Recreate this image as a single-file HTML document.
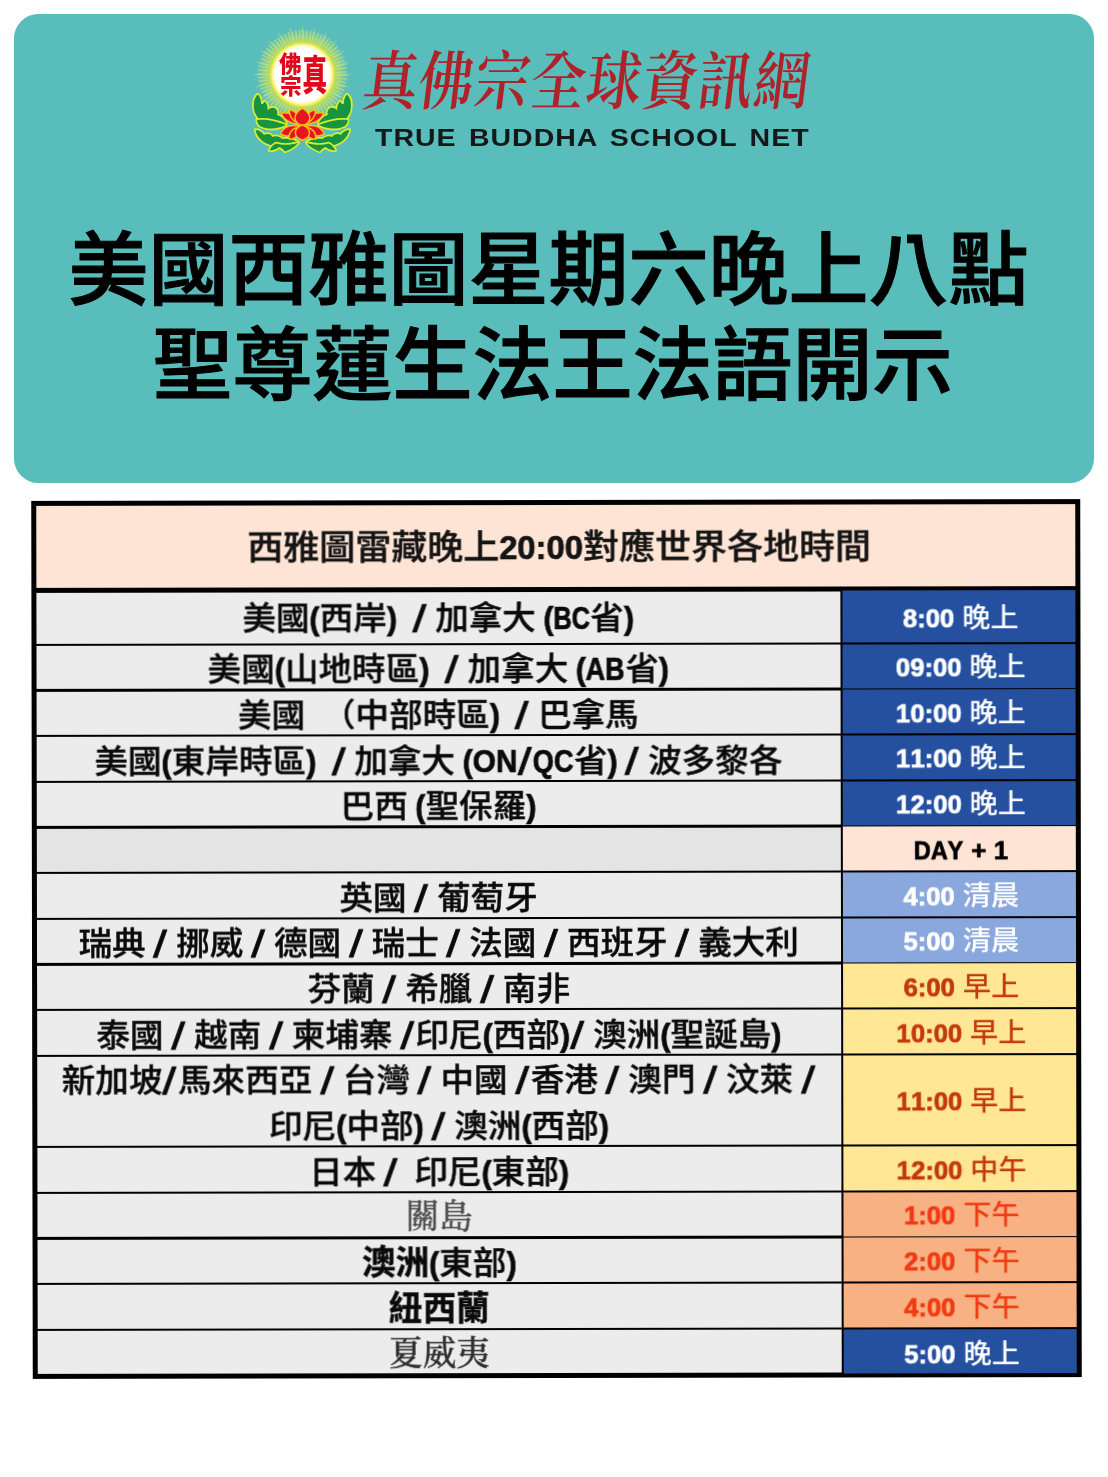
<!DOCTYPE html>
<html lang="zh-Hant">
<head>
<meta charset="utf-8">
<title>美國西雅圖星期六晚上八點 聖尊蓮生法王法語開示</title>
<style>
  html, body { margin: 0; padding: 0; }
  body {
    width: 1108px; height: 1477px; position: relative; overflow: hidden;
    background: #ffffff;
    font-family: "Liberation Sans", "Noto Sans CJK TC", sans-serif;
  }
  .banner {
    position: absolute; left: 14px; top: 14px; width: 1080px; height: 469px;
    border-radius: 24.5px; background: #58bdbb;
  }
  .logo { position: absolute; left: 240px; top: 20px; width: 130px; height: 140px; }
  .brand-zh {
    position: absolute; left: 363px; top: 42.5px; width: 456px; height: 80px;
    margin: 0; white-space: nowrap;
    font-family: "Liberation Serif", "Noto Serif CJK TC", "Noto Serif CJK SC", serif;
    font-weight: 600; font-size: 55px; line-height: 80px; letter-spacing: 0.9px; color: #b0222a;
    text-align: left; transform: skewX(-7deg) scaleY(1.16); transform-origin: 0 50%;
  }
  .brand-en {
    position: absolute; left: 374.5px; top: 124.6px; width: 434px; height: 26px;
    margin: 0; white-space: nowrap;
    font-family: "Liberation Sans", sans-serif; font-weight: 700;
    font-size: 23.5px; line-height: 26px; color: #15181a;
    letter-spacing: .8px; word-spacing: 3px;
  }
  .brand-en span { display: inline-block; transform: scaleX(1.213); transform-origin: 0 50%; }
  h1 {
    position: absolute; left: 0; top: 0; width: 1108px; height: 0; margin: 0;
    color: #000;
    font-family: "Liberation Sans", "Noto Sans CJK TC", sans-serif;
    font-weight: 500; font-size: 80px; line-height: 97px; white-space: nowrap;
    -webkit-text-stroke: 1.1px #000;
  }
  h1 span { position: absolute; display: block; }
  h1 .t1 { left: 68.5px; top: 221.75px; }
  h1 .t2 { left: 152.5px; top: 316.5px; }

  /* ---------- table ---------- */
  .sheet {
    position: absolute; left: 32.4px; top: 500.4px; width: 1049px; height: 878px;
    background: #000; transform: rotate(-0.1deg); transform-origin: 50% 50%;
    filter: blur(0.45px);
  }
  .sheet > div { position: absolute; }
  .head {
    left: 4.75px; top: 5.2px; width: 1039.5px; height: 81.5px; background: #fde4d5;
    text-align: center; font-size: 36px; line-height: 81.5px; color: #141414;
    white-space: pre; font-weight: 500; -webkit-text-stroke: 0.45px currentColor;
    padding: 1px 0 0 6.6px; box-sizing: border-box;
  }
  .head .c { transform: scaleY(.94); }
  .row { left: 4.75px; width: 1039.5px; }
  .row > div { position: absolute; top: 0; height: 100%; text-align: center; white-space: pre; }
  .row .a { left: 0; width: 804px; background: #ececec; color: #0a0a0a; font-size: 33.6px; line-height: 45.67px; font-weight: 500; word-spacing: -1.8px; letter-spacing: 0px; -webkit-text-stroke: 0.42px currentColor; }
  .row .b { left: 806px; top: -0.35px; height: calc(100% + 0.7px); width: 233.5px; box-sizing: border-box; padding-left: 3.6px; font-size: 28.2px; line-height: 43.67px; font-weight: 500; }
  .row .a .t { position: relative; top: 1.2px; display: inline-block; }
  .row .b .t { position: relative; top: 1.5px; display: inline-block; }
  .l, .s {
    display: inline-block; white-space: pre; text-align: left; font-kerning: none;
    font-family: "Liberation Sans", sans-serif; font-weight: 700;
    transform-origin: 0 50%;
  }
  .l { font-size: 0.91em; -webkit-text-stroke: 0.7px currentColor; letter-spacing: 0; word-spacing: 0; }
  .q { transform: scaleX(0.85); }
  .s { letter-spacing: 0; font-size: 1.15em; line-height: 1px; width: 0.40em; transform: translateY(0.08em) scaleX(1.3); font-weight: 400; -webkit-text-stroke: 0.7px currentColor; }
  .c { display: inline-block; transform: scaleY(0.96); transform-origin: 50% 55%; }
  .peach .l { word-spacing: 0.5px; }
  .bd { font-weight: 700; }
  .ming { font-family: "Liberation Serif", "Noto Serif CJK TC", "Noto Serif CJK SC", serif; color: #4a4a4a; font-weight: 400; }
  .ming.dk { color: #2e2e2e; font-weight: 500; }
  .navy  { background: #24509f; color: #fff; }
  .peach { background: #fde4d5; color: #000; }
  .sky   { background: #8aa8de; color: #fff; }
  .sun   { background: #ffe795; color: #c23a0a; }
  .tang  { background: #f7b183; color: #f03a12; }
</style>
</head>
<body>
<div class="banner"></div>

<svg class="logo" viewBox="0 0 130 140" role="img" aria-label="真佛宗">
  <defs>
    <radialGradient id="glow" cx="62.4" cy="54.6" r="48" gradientUnits="userSpaceOnUse">
      <stop offset="0.64" stop-color="#dfe94c" stop-opacity="1"/>
      <stop offset="0.70" stop-color="#b4da62" stop-opacity=".95"/>
      <stop offset="0.80" stop-color="#a0d47c" stop-opacity=".85"/>
      <stop offset="0.86" stop-color="#94d090" stop-opacity=".5"/>
      <stop offset="0.94" stop-color="#88cca4" stop-opacity=".15"/>
      <stop offset="1" stop-color="#7cc8b0" stop-opacity="0"/>
    </radialGradient>
    <radialGradient id="disc" cx="62.4" cy="54.6" r="32" gradientUnits="userSpaceOnUse">
      <stop offset="0.84" stop-color="#ffffff"/>
      <stop offset="0.92" stop-color="#fdf8b0"/>
      <stop offset="0.975" stop-color="#f4e93e"/>
      <stop offset="1" stop-color="#e6e848"/>
    </radialGradient>
    <g id="leafL">
      <path d="M18 74.5 C14.5 77 13 83 14.2 90 C15.7 97 21 102 30 104 C36 105.5 42 105 46 103 C44 99 41 96 37 95 C38 92 37 89.5 34.5 88 C32 87.5 29 88.5 27.5 90.5 C28 87 27 83.5 24.5 81.5 C23.5 84 22 85 21 83.5 C21 80 20 77 18 74.5 Z"/>
      <path d="M17 100 C24 99 34 100 46 105 C38 109 28 110 20 106 C18 104 17 102 17 100 Z"/>
      <path d="M15.5 110 C19 110 22 112 24 115 C27 113 31 114 32.5 117 C36 115.5 40 116.5 42 119 C47 118 53 119 58 122 C52 127 42 128 34 126 C24 124 17 118 15.5 110 Z"/>
      <path d="M58 123 C54 128 49 130 45 131.5 C43 129 41 127.5 39 127 C37 129 33 130.5 29.5 130.5 C31 127 33 125 36 123.5 C43 125.5 51 125 58 123 Z"/>
    </g>
    <g id="petalsL">
      <path d="M61 105 C50 103.5 43 99 41.3 93 C49.5 91.5 57 96 61 105 Z"/>
      <path d="M61 105 C52.5 101.5 48.5 95.5 49.8 89.5 C57 91.5 61 97 61 105 Z"/>
      <path d="M60 106.5 C50 104 43.5 107 40.5 114 C47.5 118 57 116.5 60 106.5 Z"/>
      <path d="M60 107 C52 108 48 113 49.3 119.3 C56.5 119 60.5 113.5 60 107 Z"/>
    </g>
  </defs>
  <circle cx="62.4" cy="54.6" r="48" fill="url(#glow)"/>
  <g stroke="#c6e88a" stroke-width=".6" stroke-opacity=".75" fill="none">
    <path d="M62.4 54.6L62.4 6.6M62.4 54.6L74.8 8.2M62.4 54.6L86.4 13M62.4 54.6L96.3 20.7M62.4 54.6L104 30.6M62.4 54.6L108.8 42.2M62.4 54.6L110.4 54.6M62.4 54.6L108.8 67M62.4 54.6L104 78.6M62.4 54.6L20.8 78.6M62.4 54.6L16 67M62.4 54.6L14.4 54.6M62.4 54.6L16 42.2M62.4 54.6L20.8 30.6M62.4 54.6L28.5 20.7M62.4 54.6L38.4 13M62.4 54.6L50 8.2"/>
  </g>
  <circle cx="62.4" cy="54.6" r="39" fill="none" stroke="#c4e684" stroke-opacity=".7" stroke-width="11" stroke-dasharray="1.1 2.303"/>
  <circle cx="62.4" cy="54.6" r="32" fill="url(#disc)"/>
  <g fill="#e2081c" font-family="'Liberation Sans','Noto Sans CJK TC',sans-serif" font-weight="900" text-anchor="middle">
    <text transform="translate(74.6 70) scale(1.06 1.72)" font-size="23.5">真</text>
    <text x="50.3" y="52.2" font-size="22.6">佛</text>
    <text x="50.9" y="74" font-size="21.6">宗</text>
  </g>
  <g fill="#169440" stroke="#d9ee2c" stroke-width="3.4" stroke-linejoin="round" paint-order="stroke">
    <use href="#leafL"/>
    <use href="#leafL" transform="translate(124.8 0) scale(-1 1)"/>
  </g>
  <g fill="#ea1420" stroke="#f9bd1e" stroke-width="1.5" stroke-linejoin="round">
    <use href="#petalsL"/>
    <use href="#petalsL" transform="translate(124.8 0) scale(-1 1)"/>
    <path d="M62.4 105.5 C52.5 103 52.5 94 62.4 88 C72.3 94 72.3 103 62.4 105.5 Z"/>
    <path d="M62.4 105 C53 108.5 53 117 62.4 120.2 C71.8 117 71.8 108.5 62.4 105 Z"/>
  </g>
</svg>

<p class="brand-zh">真佛宗全球資訊網</p>
<p class="brand-en"><span>TRUE BUDDHA SCHOOL NET</span></p>

<h1><span class="t1">美國西雅圖星期六晚上八點</span><span class="t2">聖尊蓮生法王法語開示</span></h1>

<div class="sheet">
  <div class="head"><span class="c">西雅圖雷藏晚上</span><span class="l">20:00</span><span class="c">對應世界各地時間</span></div>
  <div class="row" style="top:91.70px;height:51.00px"><div class="a"><span class="t" style="top:3.7px"><span class="c">美國</span><span class="l">(</span><span class="c">西岸</span><span class="l">)</span>  <span class="s">/</span> <span class="c">加拿大</span> <span class="l">(</span><span class="l q" style="width:1.199em;transform:scaleX(0.830)">BC</span><span class="c">省</span><span class="l">)</span></span></div><div class="b navy"><span class="t" style="top:5.6px"><span class="l">8:00</span> <span class="c">晚上</span></span></div></div>
  <div class="row" style="top:145.00px;height:43.37px"><div class="a"><span class="t" style=""><span class="c">美國</span><span class="l">(</span><span class="c">山地時區</span><span class="l">)</span>  <span class="s">/</span> <span class="c">加拿大</span> <span class="l">(</span><span class="l q" style="width:1.282em;transform:scaleX(0.888)">AB</span><span class="c">省</span><span class="l">)</span></span></div><div class="b navy"><span class="t" style=""><span class="l">09:00</span> <span class="c">晚上</span></span></div></div>
  <div class="row" style="top:190.67px;height:43.37px"><div class="a"><span class="t" style=""><span class="c">美國　（中部時區</span><span class="l">)</span>  <span class="s">/</span> <span class="c">巴拿馬</span></span></div><div class="b navy"><span class="t" style=""><span class="l">10:00</span> <span class="c">晚上</span></span></div></div>
  <div class="row" style="top:236.34px;height:43.37px"><div class="a"><span class="t" style=""><span class="c">美國</span><span class="l">(</span><span class="c">東岸時區</span><span class="l">)</span>  <span class="s">/</span> <span class="c">加拿大</span> <span class="l">(</span><span class="l q" style="width:1.465em;transform:scaleX(0.977)">ON</span><span class="s">/</span><span class="l q" style="width:1.336em;transform:scaleX(0.891)">QC</span><span class="c">省</span><span class="l">)</span> <span class="s">/</span> <span class="c">波多黎各</span></span></div><div class="b navy"><span class="t" style=""><span class="l">11:00</span> <span class="c">晚上</span></span></div></div>
  <div class="row" style="top:282.01px;height:43.37px"><div class="a"><span class="t" style=""><span class="c">巴西</span> <span class="l">(</span><span class="c">聖保羅</span><span class="l">)</span></span></div><div class="b navy"><span class="t" style=""><span class="l">12:00</span> <span class="c">晚上</span></span></div></div>
  <div class="row" style="top:327.68px;height:43.37px"><div class="a" style="background:#e4e4e4"><span class="t" style=""></span></div><div class="b peach"><span class="t" style=""><span class="l q" style="width:1.929em;transform:scaleX(0.914)">DAY</span><span class="l"> + 1</span></span></div></div>
  <div class="row" style="top:373.35px;height:43.37px"><div class="a"><span class="t" style=""><span class="c">英國</span> <span class="s">/</span> <span class="c">葡萄牙</span></span></div><div class="b sky"><span class="t" style=""><span class="l">4:00</span> <span class="c">清晨</span></span></div></div>
  <div class="row" style="top:419.02px;height:43.37px"><div class="a"><span class="t" style=""><span class="c">瑞典</span> <span class="s">/</span> <span class="c">挪威</span> <span class="s">/</span> <span class="c">德國</span> <span class="s">/</span> <span class="c">瑞士</span> <span class="s">/</span> <span class="c">法國</span> <span class="s">/</span> <span class="c">西班牙</span> <span class="s">/</span> <span class="c">義大利</span></span></div><div class="b sky"><span class="t" style=""><span class="l">5:00</span> <span class="c">清晨</span></span></div></div>
  <div class="row" style="top:464.69px;height:43.37px"><div class="a"><span class="t" style=""><span class="c">芬蘭</span> <span class="s">/</span> <span class="c">希臘</span> <span class="s">/</span> <span class="c">南非</span></span></div><div class="b sun"><span class="t" style=""><span class="l">6:00</span> <span class="c">早上</span></span></div></div>
  <div class="row" style="top:510.36px;height:43.37px"><div class="a"><span class="t" style=""><span class="c">泰國</span> <span class="s">/</span> <span class="c">越南</span> <span class="s">/</span> <span class="c">柬埔寨</span> <span class="s">/</span><span class="c">印尼</span><span class="l">(</span><span class="c">西部</span><span class="l">)</span><span class="s">/</span> <span class="c">澳洲</span><span class="l">(</span><span class="c">聖誕島</span><span class="l">)</span></span></div><div class="b sun"><span class="t" style=""><span class="l">10:00</span> <span class="c">早上</span></span></div></div>
  <div class="row" style="top:556.03px;height:89.04px"><div class="a"><span class="t" style=""><span class="ln" style=""><span class="c">新加坡</span><span class="s">/</span><span class="c">馬來西亞</span> <span class="s">/</span> <span class="c">台灣</span> <span class="s">/</span> <span class="c">中國</span> <span class="s">/</span><span class="c">香港</span> <span class="s">/</span> <span class="c">澳門</span> <span class="s">/</span> <span class="c">汶萊</span> <span class="s">/</span></span><br><span class="ln" style=""><span class="c">印尼</span><span class="l">(</span><span class="c">中部</span><span class="l">)</span> <span class="s">/</span> <span class="c">澳洲</span><span class="l">(</span><span class="c">西部</span><span class="l">)</span></span></span></div><div class="b sun" style="line-height:89.04px"><span class="t" style=""><span class="l">11:00</span> <span class="c">早上</span></span></div></div>
  <div class="row" style="top:647.37px;height:43.37px"><div class="a"><span class="t" style=""><span class="c">日本</span> <span class="s">/</span>  <span class="c">印尼</span><span class="l">(</span><span class="c">東部</span><span class="l">)</span></span></div><div class="b sun"><span class="t" style=""><span class="l">12:00</span> <span class="c">中午</span></span></div></div>
  <div class="row" style="top:693.04px;height:43.37px"><div class="a"><span class="t" style=""><span class="ming">關島</span></span></div><div class="b tang"><span class="t" style=""><span class="l">1:00</span> <span class="c">下午</span></span></div></div>
  <div class="row" style="top:738.71px;height:43.37px"><div class="a"><span class="t" style=""><span class="bd">澳洲</span><span class="l">(</span><span class="c">東部</span><span class="l">)</span></span></div><div class="b tang"><span class="t" style=""><span class="l">2:00</span> <span class="c">下午</span></span></div></div>
  <div class="row" style="top:784.38px;height:43.37px"><div class="a"><span class="t" style=""><span class="bd">紐西蘭</span></span></div><div class="b tang"><span class="t" style=""><span class="l">4:00</span> <span class="c">下午</span></span></div></div>
  <div class="row" style="top:830.05px;height:43.37px"><div class="a"><span class="t" style=""><span class="ming dk">夏威夷</span></span></div><div class="b navy"><span class="t" style="top:3.4px"><span class="l">5:00</span> <span class="c">晚上</span></span></div></div>
</div>
</body>
</html>
